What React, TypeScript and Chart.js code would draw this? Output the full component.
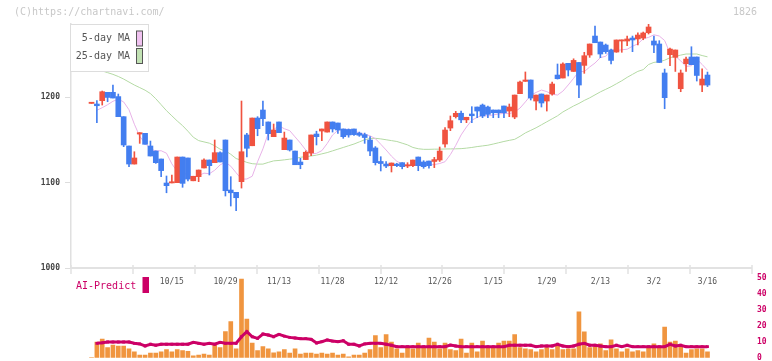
import React, { useEffect, useRef } from 'react';
import { Chart, registerables } from 'chart.js';

Chart.register(...registerables);

const W = 772;
const H = 361;
const HB = 380;
const FONT = "'DejaVu Sans Mono', monospace";

const opens = [1192.5,1191.8,1195.7,1205.5,1205.5,1200.5,1177,1142.7,1121.6,1156.7,
1157.5,1142.7,1136.8,1127.5,1099.4,1099.5,1099.8,1129.8,1128.7,1102,
1106.8,1117,1126.3,1123.2,1134.9,1149.7,1091.2,1088.5,1101,1155.6,
1143,1175.4,1184.8,1170.8,1153.6,1170.8,1138.4,1149.7,1136.8,1124,
1126.8,1134.5,1156.7,1160.2,1159,1170.8,1169.6,1162.6,1162,1162.6,
1157.8,1156,1149.7,1140.4,1124.6,1121.6,1119.7,1121.6,1123.2,1119.3,
1119.7,1129.8,1124,1125.1,1124.6,1126.3,1145,1163.7,1177,1181,
1173.3,1180.1,1188.3,1190.6,1188.3,1184.8,1184.8,1189.5,1183.6,1176.6,
1203.9,1218.3,1219.9,1195.3,1203.5,1195.3,1203.5,1225.7,1222.2,1239.4,
1229.9,1240.4,1237,1249.1,1271.3,1264.3,1260.8,1255,1252.6,1265.5,
1265.5,1269,1267.9,1269,1275.2,1265.5,1262,1228.1,1249.5,1246.4,
1209.7,1239,1246.8,1246.8,1214,1225.7];

const highs = [1193.5,1195.7,1207,1205.5,1214,1203.5,1177,1142.7,1136,1158.3,
1157.5,1148.5,1137,1127.5,1107.6,1108.8,1129.8,1129.8,1128.7,1107.3,
1114.6,1127.8,1126.3,1149.7,1136,1149.7,1106.8,1088.5,1195.3,1157.5,
1175.4,1177,1195.3,1170.8,1168.4,1170.8,1159,1149.7,1136.8,1128.3,
1137,1155.6,1160,1162.6,1170.8,1170.8,1169.6,1162.6,1162.6,1162.6,
1159,1157.8,1153.6,1142,1130.2,1124.6,1122.8,1122.5,1123.2,1123.2,
1126.3,1129.8,1125.5,1125.1,1129.4,1141.5,1164.1,1177.8,1183.2,1183.6,
1176.3,1188.7,1188.3,1191.8,1189.5,1184.8,1184.8,1189.5,1191.8,1202.3,
1218.7,1229.3,1219.9,1202.3,1203.5,1202.3,1217.5,1238.6,1240,1239.4,
1244.7,1240.4,1252.3,1262,1283,1264.3,1262,1256,1266.7,1266.7,
1271.3,1271.3,1275.2,1276,1285.4,1271.3,1265.9,1232.7,1257.3,1255,
1231.6,1246.8,1258.8,1246.8,1233,1229.2];

const lows = [1192.5,1170,1190.6,1194.5,1198.8,1177,1141.9,1118.5,1121.6,1145.8,
1144.7,1131,1122.4,1106.8,1088,1099.5,1099.8,1094.4,1102,1102,
1101,1117,1108.8,1123.2,1124,1084.2,1072.5,1067,1093.5,1130,
1143,1154.7,1166.4,1149.7,1153.6,1158.3,1138.4,1136.8,1120.8,1116.1,
1126.8,1131.3,1143.9,1148.9,1159,1159,1157.5,1151.7,1153,1155,
1154,1145.8,1131.3,1120.5,1113.5,1117.4,1112.3,1118.5,1116,1117.4,
1118.5,1113.8,1116.6,1116.9,1117.4,1124.6,1141.2,1160.6,1175.4,1170,
1170,1170,1175.8,1175.8,1175.8,1175.8,1175.8,1175.8,1177,1174.6,
1203.9,1218.3,1196.5,1184.8,1188.3,1183.6,1202.3,1221,1222.2,1224.6,
1229.9,1199.2,1227.7,1246.4,1263.5,1246,1251,1238.6,1252.3,1252.3,
1260,1253,1260.8,1267,1273.7,1251.8,1240.4,1186.3,1236.7,1229.9,
1206.2,1229.9,1237.8,1218.7,1206.2,1212.2];

const closes = [1193,1189.8,1206.2,1199.5,1198.8,1177,1143.9,1121.6,1128.7,1158.3,
1144.7,1131,1123.2,1113.9,1096.3,1100.5,1129.8,1099,1104,1107.3,
1114.6,1126.3,1119.7,1134.9,1124,1090.4,1088,1082.2,1136,1140,
1175.4,1163,1174.6,1157.1,1161.4,1158.3,1152,1138,1120.8,1120.8,
1135.4,1155.6,1153.6,1162.6,1170.8,1162.6,1161.4,1153.6,1155.6,1156,
1155.3,1152.6,1136.8,1123.2,1122.2,1119.3,1122.8,1119.7,1118.5,1120.5,
1126.3,1119.7,1118.5,1119.7,1126.8,1136.8,1161.4,1172.3,1180.9,1173.3,
1176.3,1178.1,1183.6,1177.8,1179.7,1181.6,1181.6,1181.6,1188.3,1202.3,
1217.5,1219.9,1198.8,1202.3,1193,1202.3,1215.2,1221.4,1238.6,1231.6,
1242.8,1214,1248.3,1262,1263.5,1250.3,1253,1242.8,1266.7,1266.7,
1267.9,1266.7,1272.5,1274.9,1281.9,1260.8,1240.4,1199.2,1256.1,1255,
1228.1,1244.4,1237.8,1225.2,1221,1214];

// first values of the 5-day MA (depend on closes before the visible range)
const ma5Lead = [null, 1184.5, 1187.5, 1191, 1195];

const ma25 = [1236,1233,1230.5,1228.5,1226.5,1224,1221,1217.5,1214,1211,
1208,1204,1198,1191,1184,1178,1172,1166.5,1160,1153,
1149,1147.5,1146,1143,1139,1137,1133,1128,1126,1123.5,
1122,1121.5,1121.5,1123.5,1125.3,1125.8,1126.5,1127.3,1128,1129.5,
1130.3,1131,1132,1133.5,1135,1137,1139,1141,1143,1145,
1147.5,1150,1151.5,1151.7,1151,1150,1149,1148,1146,1144,
1141,1139.5,1138.8,1138.8,1139,1139,1139.2,1139.3,1139.4,1139.6,
1140.2,1141,1142,1142.8,1143.6,1145,1146.5,1148,1149.3,1150.5,
1154,1158,1161,1164,1167.5,1171,1174.5,1178,1182.5,1186,
1189.5,1192.5,1196,1199,1202.5,1206,1209,1212,1215.5,1219,
1223,1226.5,1230,1232,1238,1240.5,1241.3,1243,1246,1247.5,
1249,1250.3,1250.3,1250.3,1248.5,1247];

const volume = [0,9.8,11.7,6.3,7.9,7.3,7.3,5.6,3.6,1.7,
1.7,2.9,2.9,3.6,5,3.6,5,4.4,4,1.1,
1.7,2.3,1.7,7.9,6.3,16.3,22.5,5.6,49.2,24.2,
9.2,4.4,6.9,5.6,3.1,3.6,5,2.9,5.6,2.3,
2.9,2.9,2.3,2.9,2.3,2.9,1.7,2.3,0.6,1.7,
1.7,2.9,5,13.8,6.3,14.4,9.8,5.6,2.9,6.3,
5.6,9.2,6.3,12.3,9.8,5.6,9.2,5,4.4,11.7,
2.9,9.2,3.6,10.4,6.9,6.9,9.2,10.4,10.4,14.4,
6.3,5.6,5,3.6,5,6.3,5,7.9,5,5.6,
5.6,28.6,16.1,6.3,6.9,8.6,4.4,11.1,5.6,3.6,
5.6,3.6,4.4,3.6,6.9,8.6,6.9,19.2,9.8,10.4,
7.9,2.9,5,5.6,5.6,3.6];

const aiPredict = [null,9.0,9.3,9.8,9.8,9.8,9.8,9.8,9.0,8.6,
7.3,8.4,7.8,8.4,8.4,8.4,8.4,8.4,8.4,9.6,
9.0,8.4,9.0,8.4,9.6,9.0,9.0,9.0,13.1,16.3,
13.1,12.1,14.8,14.2,13.1,14.6,13.5,12.7,12.3,11.9,
11.9,11.5,9.2,10.0,11.1,10.4,10.0,10.6,8.4,8.4,
7.3,8.6,9.0,9.0,9.0,8.4,7.8,6.9,6.9,6.9,
6.9,6.9,6.9,6.9,6.9,6.9,6.9,7.9,7.3,6.9,
6.9,6.9,6.9,6.9,6.9,6.9,6.9,6.9,7.8,7.8,
7.8,7.8,7.8,6.9,7.3,7.3,7.3,8.4,7.3,6.9,
7.3,8.4,9.0,7.8,7.8,7.3,6.9,6.9,7.8,6.9,
7.8,6.9,6.9,6.9,6.9,6.9,6.9,6.9,8.4,7.3,
7.8,6.9,6.9,6.9,6.9,6.9];

const dateLabels = ['10/15','10/29','11/13','11/28','12/12','12/26','1/15','1/29','2/13','3/2','3/16'];
const dateIdx = [15,25,35,45,55,65,75,85,95,105,115];
const priceTicks = [1000, 1100, 1200];
const legendItems = [
  { label: '5-day MA', fill: '#f0c2f0' },
  { label: '25-day MA', fill: '#c2e2b4' },
];

const X_MIN = -3.83;
const X_MAX = 123.31;
const UP = '#f05340';
const DOWN = '#437ef0';
const CRIMSON = '#cc0066';

export default function App() {
  const refA = useRef<HTMLCanvasElement>(null);
  const refB = useRef<HTMLCanvasElement>(null);

  useEffect(() => {
    const n = closes.length;
    const colors = closes.map((c, i) => (c >= opens[i] ? UP : DOWN));
    const bodies = closes.map((c, i) => ({ x: i, y: [Math.min(c, opens[i]), Math.max(c, opens[i])] }));
    const wicks = closes.map((_, i) => ({ x: i, y: [lows[i], highs[i]] }));
    const ma5 = closes.map((_, i) => {
      if (i < ma5Lead.length) return { x: i, y: ma5Lead[i] };
      let s = 0;
      for (let k = i - 5; k < i; k++) s += closes[k];
      return { x: i, y: s / 5 };
    });
    const ma25pts = ma25.slice(0, n).map((v, i) => ({ x: i, y: v }));

    const decor = {
      id: 'decor',
      afterDraw(chart: any) {
        const { ctx, chartArea } = chart;
        const { left, right, bottom } = chartArea;
        const xs = chart.scales.x;
        ctx.save();
        ctx.strokeStyle = '#e2e2e2';
        ctx.lineWidth = 2;
        ctx.beginPath();
        ctx.moveTo(left, bottom);
        ctx.lineTo(right, bottom);
        ctx.stroke();
        ctx.lineWidth = 1.5;
        ctx.beginPath();
        for (let k = 0; k <= 11; k++) {
          const px = Math.round(left + ((right - left) * k) / 11);
          ctx.moveTo(px, bottom - 3);
          ctx.lineTo(px, bottom + 6);
        }
        ctx.stroke();
        ctx.fillStyle = '#555';
        ctx.font = `8px ${FONT}`;
        ctx.textAlign = 'center';
        ctx.textBaseline = 'middle';
        dateLabels.forEach((t, j) => ctx.fillText(t, xs.getPixelForValue(dateIdx[j]), bottom + 14));
        ctx.fillStyle = '#fff';
        ctx.fillRect(70.5, 24.5, 78, 47);
        ctx.strokeStyle = '#dddddd';
        ctx.lineWidth = 1;
        ctx.strokeRect(70.5, 24.5, 78, 47);
        ctx.font = `10px ${FONT}`;
        ctx.textAlign = 'right';
        legendItems.forEach((it, k) => {
          const cy = 38.5 + k * 17.5;
          ctx.fillStyle = '#555';
          ctx.fillText(it.label, 130, cy);
          ctx.fillStyle = it.fill;
          ctx.fillRect(136.5, cy - 7.5, 6, 15);
          ctx.strokeStyle = '#555';
          ctx.strokeRect(136.5, cy - 7.5, 6, 15);
        });
        ctx.fillStyle = '#c8c8c8';
        ctx.textAlign = 'left';
        ctx.fillText('(C)https://chartnavi.com/', 14, 12.5);
        ctx.textAlign = 'right';
        ctx.fillText('1826', 757, 12.5);
        ctx.fillStyle = CRIMSON;
        ctx.textAlign = 'left';
        ctx.fillText('AI-Predict', 76, 286);
        ctx.fillRect(142.5, 277, 6.5, 16);
        ctx.restore();
      },
    };

    const a = new Chart(refA.current!, {
      type: 'bar',
      data: {
        datasets: [
          { type: 'bar', data: bodies as any, backgroundColor: colors, barThickness: 5, grouped: false, minBarLength: 1.2, order: 0 } as any,
          { type: 'bar', data: wicks as any, backgroundColor: colors, barThickness: 1, grouped: false, order: 1 } as any,
          { type: 'line', data: ma5 as any, borderColor: '#e8b2e8', borderWidth: 1, pointRadius: 0, tension: 0, order: 2 } as any,
          { type: 'line', data: ma25pts as any, borderColor: '#b4daa4', borderWidth: 1, pointRadius: 0, tension: 0, order: 3 } as any,
        ],
      },
      options: {
        animation: false,
        responsive: false,
        devicePixelRatio: 1,
        events: [],
        layout: { padding: { top: 24, right: 20, bottom: 93, left: 0 } },
        plugins: { legend: { display: false }, tooltip: { enabled: false } },
        scales: {
          x: { type: 'linear', min: X_MIN, max: X_MAX, offset: false, display: false },
          y: {
            min: priceTicks[0],
            max: Math.max(...highs),
            afterFit: (s: any) => { s.width = 71; },
            afterBuildTicks: (s: any) => { s.ticks = priceTicks.map((v) => ({ value: v })); },
            grid: { drawOnChartArea: false, tickLength: 6, color: '#dddddd' },
            border: { display: true, color: '#e0e0e0', width: 1.5 },
            ticks: {
              padding: 5,
              color: '#444',
              font: { family: FONT, size: 8, weight: 'bold' },
              callback: (v: any) => String(v),
            },
          },
        },
      } as any,
      plugins: [decor],
    });

    const b = new Chart(refB.current!, {
      type: 'bar',
      data: {
        datasets: [
          {
            type: 'line',
            data: aiPredict.map((v, i) => ({ x: i, y: v })) as any,
            borderColor: CRIMSON,
            borderWidth: 3,
            pointStyle: 'rect',
            pointRadius: 2,
            pointBackgroundColor: CRIMSON,
            pointBorderWidth: 0,
            tension: 0,
            order: 0,
          } as any,
          {
            type: 'bar',
            data: volume.map((v, i) => ({ x: i, y: v })) as any,
            backgroundColor: '#f0953f',
            barThickness: 4,
            grouped: false,
            order: 1,
          } as any,
        ],
      },
      options: {
        animation: false,
        responsive: false,
        devicePixelRatio: 1,
        events: [],
        layout: { padding: { top: 277.7, right: 0, bottom: HB - 357.7, left: 71 } },
        plugins: { legend: { display: false }, tooltip: { enabled: false } },
        scales: {
          x: { type: 'linear', min: X_MIN, max: X_MAX, offset: false, display: false },
          y: {
            position: 'right',
            min: 0,
            max: 50,
            afterFit: (s: any) => { s.width = 20; },
            grid: { display: false, drawTicks: false },
            border: { display: false },
            ticks: { stepSize: 10, padding: 5, color: CRIMSON, font: { family: FONT, size: 8, weight: 'bold' } },
          },
        },
      } as any,
    });

    return () => {
      a.destroy();
      b.destroy();
    };
  }, []);

  return (
    <div style={{ position: 'fixed', left: 0, top: 0, width: W, height: H, background: '#fff', overflow: 'hidden' }}>
      <canvas ref={refA} width={W} height={H} style={{ position: 'absolute', left: 0, top: 0 }} />
      <canvas ref={refB} width={W} height={HB} style={{ position: 'absolute', left: 0, top: 0 }} />
    </div>
  );
}
